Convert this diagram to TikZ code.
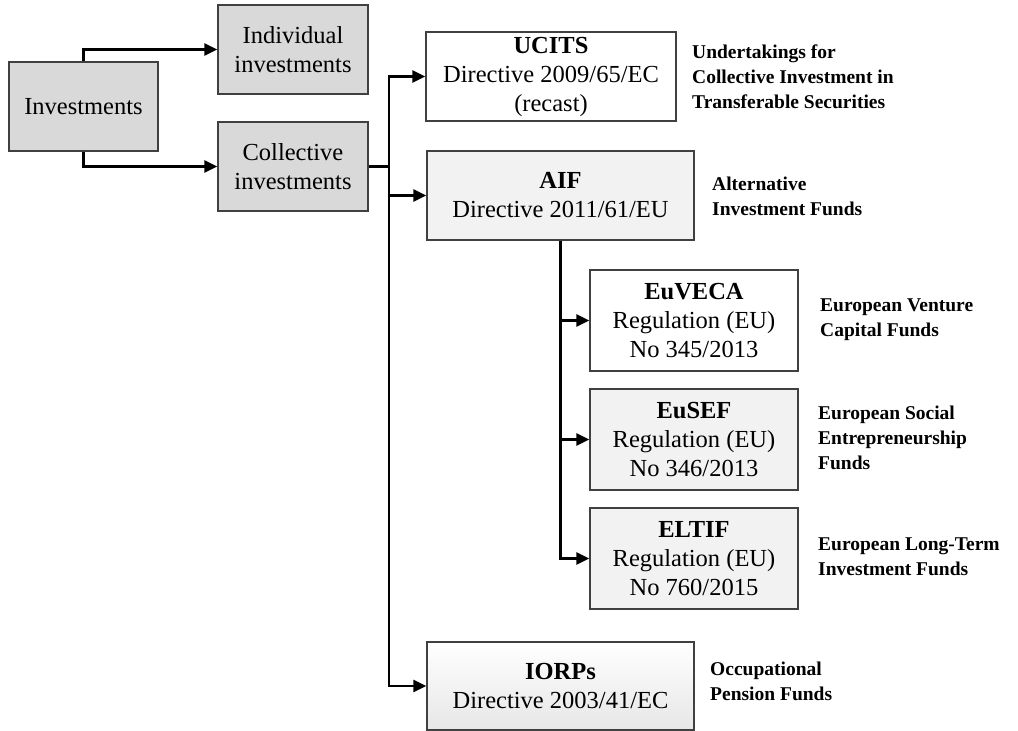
\documentclass[tikz,border=0pt]{standalone}
\usepackage{fontspec}
\setmainfont{Liberation Serif}
\usetikzlibrary{arrows.meta}
\definecolor{darkbox}{HTML}{D9D9D9}
\definecolor{lightbox}{HTML}{F2F2F2}
\definecolor{edge}{HTML}{404040}
\tikzset{
  box/.style={draw=edge, line width=1.2pt, align=center, inner sep=0pt,
    font=\fontsize{24.5}{29}\selectfont},
  lbl/.style={anchor=west, align=left, inner sep=0pt,
    font=\bfseries\fontsize{19.5}{25}\selectfont},
  arr/.style={line width=2.5pt, -{Triangle[length=13pt,width=12pt]}},
  ln/.style={line width=2.5pt}
}
\begin{document}
\begin{tikzpicture}[x=1pt,y=-1pt]
\useasboundingbox (0,0) rectangle (1018,731);
% boxes
\node[box, fill=darkbox, minimum width=149pt, minimum height=89pt] (inv) at (83.5,106.5) {Investments};
\node[box, fill=darkbox, minimum width=150pt, minimum height=89pt] (indiv) at (293,49.5) {Individual\\investments};
\node[box, fill=darkbox, minimum width=150pt, minimum height=89pt] (coll) at (293,166.5) {Collective\\investments};
\node[box, fill=white, minimum width=250pt, minimum height=89pt] (ucits) at (551,76.5) {\textbf{UCITS}\\Directive 2009/65/EC\\(recast)};
\node[box, fill=lightbox, minimum width=267pt, minimum height=89pt] (aif) at (560.5,195.5) {\textbf{AIF}\\Directive 2011/61/EU};
\node[box, fill=white, minimum width=208pt, minimum height=101pt] (euveca) at (694,320.5) {\textbf{EuVECA}\\Regulation (EU)\\No 345/2013};
\node[box, fill=lightbox, minimum width=208pt, minimum height=101pt] (eusef) at (694,439.5) {\textbf{EuSEF}\\Regulation (EU)\\No 346/2013};
\node[box, fill=lightbox, minimum width=208pt, minimum height=101pt] (eltif) at (694,558.5) {\textbf{ELTIF}\\Regulation (EU)\\No 760/2015};
\node[box, top color=white, bottom color=lightbox!90!gray, minimum width=267pt, minimum height=88pt] (iorps) at (560.5,686) {\textbf{IORPs}\\Directive 2003/41/EC};
% labels
\node[lbl] (lucits) at (692,77) {Undertakings for\\Collective Investment in\\Transferable Securities};
\node[lbl] (laif) at (712,196) {Alternative\\Investment Funds};
\node[lbl] (leuveca) at (820,320) {European Venture\\Capital Funds};
\node[lbl] (leusef) at (818,438) {European Social\\Entrepreneurship\\Funds};
\node[lbl] (leltif) at (818,557) {European Long-Term\\Investment Funds};
\node[lbl] (liorps) at (710,681) {Occupational\\Pension Funds};
% connectors
\coordinate (trunk) at (389,166.5);
\draw[arr] (inv.north) |- (indiv.west);
\draw[arr] (inv.south) |- (coll.west);
\draw[ln] (coll.east) -- (trunk);
\draw[arr] (trunk) |- (ucits.west);
\draw[arr] (trunk) |- (aif.west);
\draw[arr] (trunk) |- (iorps.west);
\draw[arr] (aif.south) |- (euveca.west);
\draw[arr] (aif.south) |- (eusef.west);
\draw[arr] (aif.south) |- (eltif.west);
\end{tikzpicture}
\end{document}
